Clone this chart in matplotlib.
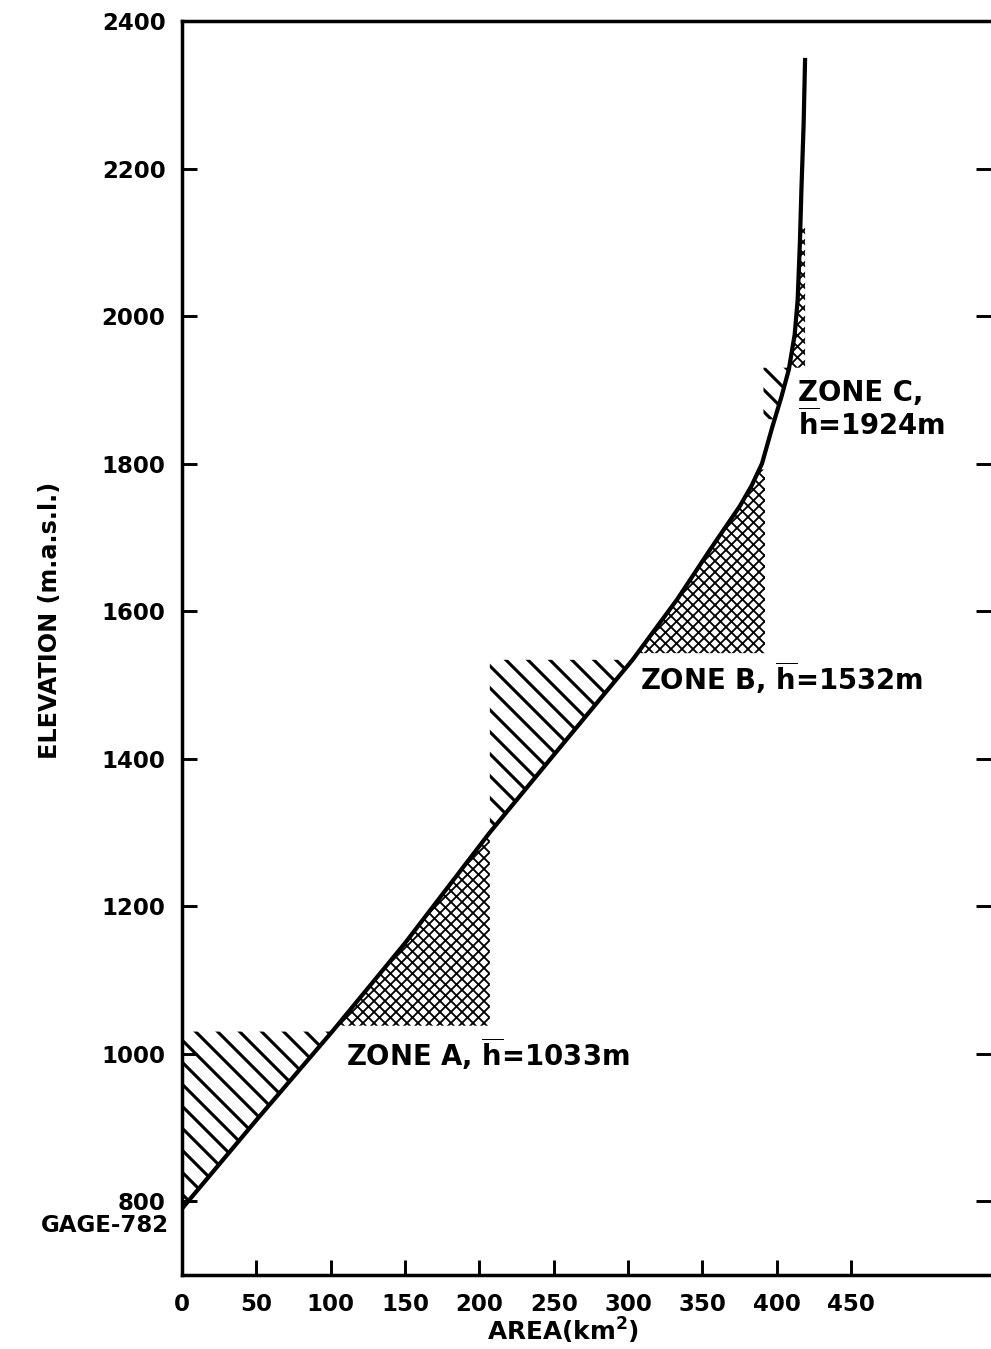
import numpy as np
import matplotlib
matplotlib.use("Agg")
import matplotlib.pyplot as plt
from matplotlib.transforms import blended_transform_factory

# ---------------- data ----------------
curve_area = [0, 50, 101, 150, 207, 250, 303, 333, 355, 375, 383, 390, 397, 403, 408, 412, 414, 415.5, 416.5, 418, 419]
curve_elev = [790, 910, 1030, 1150, 1300, 1405, 1534, 1616, 1683, 1742, 1770, 1800, 1850, 1890, 1927, 1975, 2022, 2100, 2170, 2260, 2350]

# zones: diagonal-hatched part (fixed_x .. curve) and cross-hatched part (curve .. fixed_x)
zone_hatch_lo = [790, 1300, 1860]
zone_hatch_hi = [1030, 1534, 1930]
zone_hatch_x = [0, 207, 391]
zone_cross_lo = [1038, 1543, 1930]
zone_cross_hi = [1300, 1792, 2120]
zone_cross_x = [207, 392, 419]

zone_labels = ["ZONE A, ", "ZONE B, ", "ZONE C,\n"]
zone_means = [1033, 1532, 1924]

x_ticks = [0, 50, 100, 150, 200, 250, 300, 350, 400, 450]
y_ticks = [800, 1000, 1200, 1400, 1600, 1800, 2000, 2200, 2400]
gage_elev = 782

# ---------------- figure ----------------
DPI = 132
plt.rcParams['font.family'] = ['DejaVu Sans']
plt.rcParams['font.weight'] = 'bold'
plt.rcParams['mathtext.fontset'] = 'dejavusans'
plt.rcParams['mathtext.default'] = 'bf'

fig = plt.figure(figsize=(991 / DPI, 1349 / DPI), dpi=DPI)
ax = fig.add_axes([182 / 991, 1 - 1275 / 1349, 1 - 182 / 991, (1275 - 21) / 1349])
ax.set_xlim(0, 544)
ax.set_ylim(700, 2400)

def curve_x(y):
    return np.interp(y, curve_elev, curve_area)

def hatched(y0, y1, xfixed, side, hatch, lw):
    y = np.linspace(y0, y1, 200)
    cx = curve_x(y)
    with plt.rc_context({'hatch.linewidth': lw}):
        if side == 'left':
            p = ax.fill_betweenx(y, xfixed, cx, facecolor='none', edgecolor='black',
                                 linewidth=0, hatch=hatch)
        else:
            p = ax.fill_betweenx(y, cx, xfixed, facecolor='none', edgecolor='black',
                                 linewidth=0, hatch=hatch)
    if hasattr(p, 'set_hatch_linewidth'):
        p.set_hatch_linewidth(lw)
    return p

for lo, hi, xf in zip(zone_hatch_lo, zone_hatch_hi, zone_hatch_x):
    hatched(lo, hi, xf, 'left', '\\\\', 1.7)
for lo, hi, xf in zip(zone_cross_lo, zone_cross_hi, zone_cross_x):
    hatched(lo, hi, xf, 'right', 'xxxx', 1.0)

ax.plot(curve_area, curve_elev, color='black', lw=2.3, solid_capstyle='butt', zorder=5)

# labels of zones
label_pos_x = [110, 308, 414]
label_pos_y = [1000, 1510, 1873]
for lab, m, lx, ly in zip(zone_labels, zone_means, label_pos_x, label_pos_y):
    ax.text(lx, ly, lab + r'$\overline{\mathbf{h}}$' + f'={m}m', fontsize=15,
            fontweight='bold', ha='left', va='center', linespacing=1.05)

# axes styling
for s in ['left', 'bottom', 'top']:
    ax.spines[s].set_linewidth(1.9)
ax.spines['right'].set_visible(False)

ax.set_xticks(x_ticks)
ax.set_xticklabels([str(v) for v in x_ticks])
ax.set_yticks(y_ticks)
ax.set_yticklabels([str(v) for v in y_ticks])
ax.tick_params(axis='both', direction='in', length=8, width=1.6, labelsize=12.5, pad=9)
ax.tick_params(axis='y', right=True, labelright=False)
ax.tick_params(axis='x', top=False, pad=10)

trans = blended_transform_factory(ax.transAxes, ax.transData)
ax.text(-0.016, 767, f'GAGE-{gage_elev}', transform=trans, ha='right', va='center',
        fontsize=12.5, fontweight='bold')

ax.text(256, 624, 'AREA(km$^{\\mathbf{2}}$)', ha='center', va='center', fontsize=13.5,
        fontweight='bold', transform=ax.transData, clip_on=False)
fig.text(50 / 991, 1 - 620 / 1349, 'ELEVATION (m.a.s.l.)', rotation=90, ha='center',
         va='center', fontsize=13, fontweight='bold')

fig.savefig('out.png', dpi=DPI)
